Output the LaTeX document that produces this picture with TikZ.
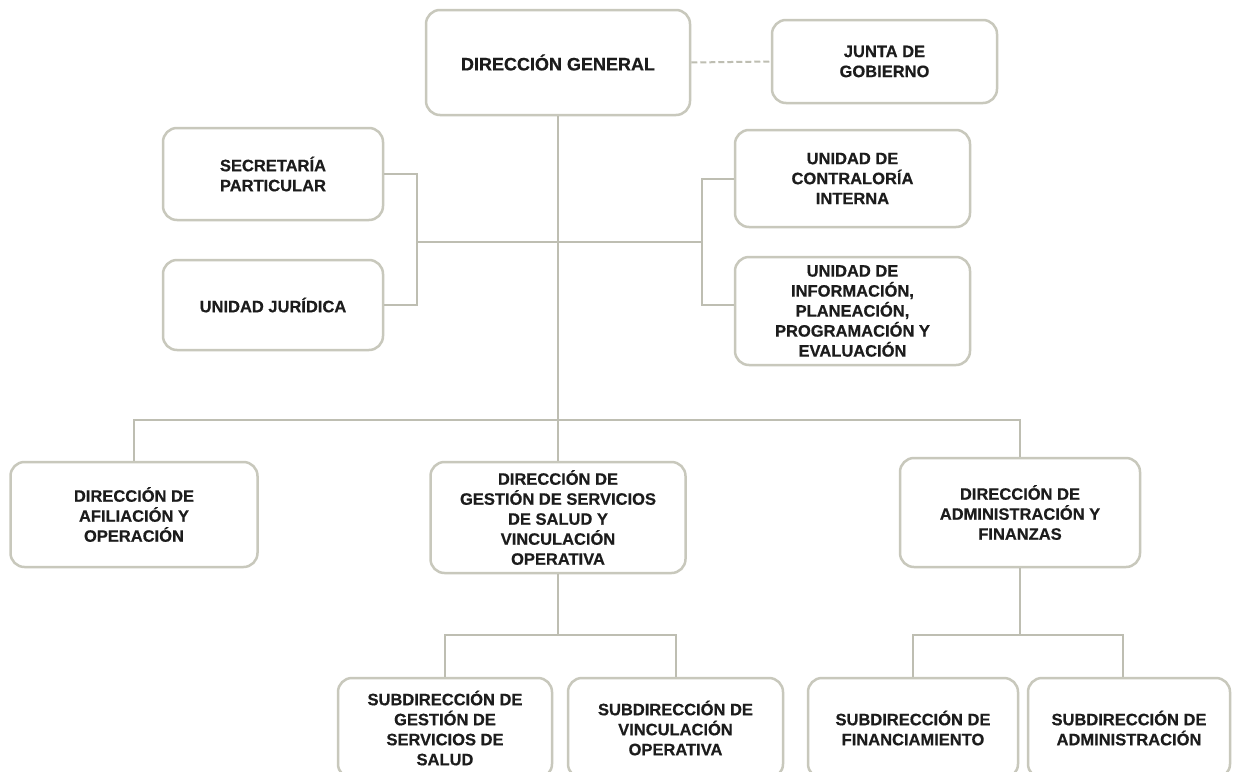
\documentclass[tikz,border=0pt]{standalone}
\usepackage{fontspec}
\setmainfont{Liberation Sans}[FakeBold=0.6]
\usetikzlibrary{calc}
\definecolor{boxgray}{RGB}{200,200,188}
\definecolor{linegray}{RGB}{190,190,178}
\definecolor{txt}{RGB}{28,28,28}
\begin{document}
\begin{tikzpicture}[x=1pt,y=-1pt,
  orgbox/.style={draw=boxgray, line width=2.5pt, rounded corners=14pt, fill=white,
    inner sep=0pt, align=center, text=txt,
    font=\bfseries\fontsize{16.5}{20}\selectfont},
  conn/.style={draw=linegray, line width=2pt},
  dashconn/.style={draw=linegray, line width=2pt, dash pattern=on 6pt off 3pt}]
\useasboundingbox (0,0) rectangle (1233,771);
\fill[white] (0,0) rectangle (1233,771);
\clip (0,0) rectangle (1233,771);

% nodes
\node[orgbox, minimum width=264pt, minimum height=105pt,
  font=\bfseries\fontsize{18}{21}\selectfont] (dg) at (558,62.5) {DIRECCIÓN GENERAL};
\node[orgbox, minimum width=225pt, minimum height=83pt] (junta) at (884.5,61.5) {JUNTA DE\\GOBIERNO};
\node[orgbox, minimum width=220pt, minimum height=92pt] (sp) at (273,174) {SECRETARÍA\\PARTICULAR};
\node[orgbox, minimum width=220pt, minimum height=90pt] (uj) at (273,305) {UNIDAD JURÍDICA};
\node[orgbox, minimum width=235pt, minimum height=97pt] (uci) at (852.5,178.5) {UNIDAD DE\\CONTRALORÍA\\INTERNA};
\node[orgbox, minimum width=235pt, minimum height=108pt] (uippe) at (852.5,311) {UNIDAD DE\\INFORMACIÓN,\\PLANEACIÓN,\\PROGRAMACIÓN Y\\EVALUACIÓN};
\node[orgbox, minimum width=247pt, minimum height=105pt] (dao) at (134,514.5) {DIRECCIÓN DE\\AFILIACIÓN Y\\OPERACIÓN};
\node[orgbox, minimum width=255pt, minimum height=111pt] (dgs) at (558,517.5) {DIRECCIÓN DE\\GESTIÓN DE SERVICIOS\\DE SALUD Y\\VINCULACIÓN\\OPERATIVA};
\node[orgbox, minimum width=240pt, minimum height=109pt] (daf) at (1020,512.5) {DIRECCIÓN DE\\ADMINISTRACIÓN Y\\FINANZAS};
\node[orgbox, minimum width=214pt, minimum height=100pt] (sgss) at (445,728) {SUBDIRECCIÓN DE\\GESTIÓN DE\\SERVICIOS DE\\SALUD};
\node[orgbox, minimum width=215pt, minimum height=100pt] (svo) at (675.5,728) {SUBDIRECCIÓN DE\\VINCULACIÓN\\OPERATIVA};
\node[orgbox, minimum width=210pt, minimum height=100pt] (sf) at (913,728) {SUBDIRECCIÓN DE\\FINANCIAMIENTO};
\node[orgbox, minimum width=202pt, minimum height=100pt] (sa) at (1129,728) {SUBDIRECCIÓN DE\\ADMINISTRACIÓN};

% junction coordinates
\coordinate (lb) at (417,242);
\coordinate (rb) at (702,242);
\coordinate (bus) at (558,420);
\coordinate (b2) at (558,635);
\coordinate (b3) at (1020,635);

% connectors
\draw[dashconn] (dg.east) -- (junta.west);
\draw[conn] (dg.south) -- (bus);
\draw[conn] (sp.east) -- (sp.east -| lb) -- (uj.east -| lb) -- (uj.east);
\draw[conn] (lb) -- (rb);
\draw[conn] (uci.west) -- (uci.west -| rb) -- ([yshift=6pt]uippe.west -| rb) -- ([yshift=6pt]uippe.west);
\draw[conn] (dao.north) |- (bus) -| (daf.north);
\draw[conn] (bus) -- (dgs.north);
\draw[conn] (dgs.south) -- (b2);
\draw[conn] (sgss.north) |- (b2) -| (svo.north);
\draw[conn] (daf.south) -- (b3);
\draw[conn] (sf.north) |- (b3) -| ([xshift=-6pt]sa.north);
\end{tikzpicture}
\end{document}
